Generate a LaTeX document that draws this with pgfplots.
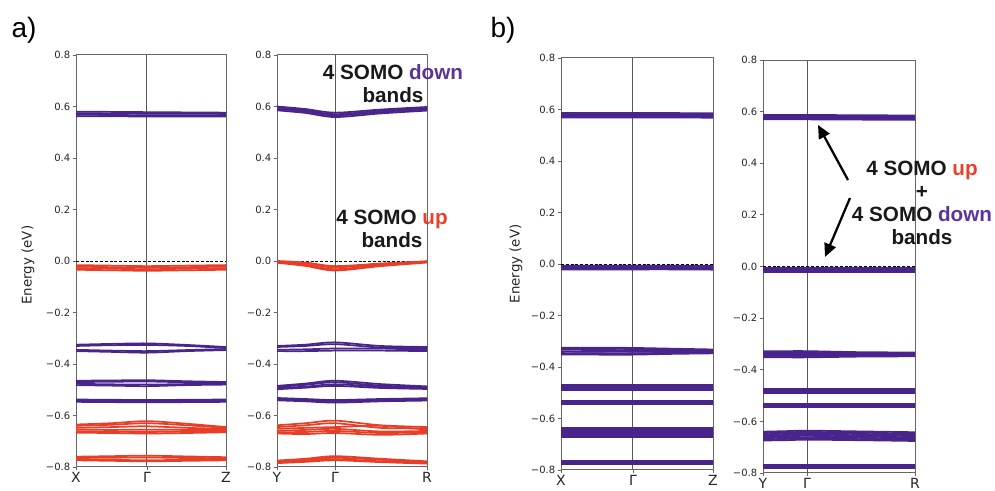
\documentclass[border=0pt]{standalone}
\usepackage{pgfplots}
\pgfplotsset{compat=1.18}
\usepackage{pgfplotstable}
\usetikzlibrary{arrows.meta}
\usepackage{fontspec}
\setmainfont{DejaVu Sans}
\newfontfamily\arial{Liberation Sans}
\definecolor{bred}{RGB}{232,62,40}
\definecolor{bpur}{RGB}{72,36,140}
\definecolor{tpur}{RGB}{92,52,152}
\definecolor{tred}{RGB}{232,64,44}

% panel a1: X - Gamma - Z  (p = spin-down/purple, r = spin-up/red)
\pgfplotstableread{
x p1 p2 p3 p4 p5 p6 p7 p8 p9 p10 p11 p12 p13 p14 p15 p16 r1 r2 r3 r4 r5 r6 r7 r8 r9 r10 r11 r12 r13 r14
0 0.580 0.574 0.568 0.562 -0.325 -0.330 -0.345 -0.350 -0.465 -0.470 -0.477 -0.482 -0.538 -0.541 -0.544 -0.547 -0.016 -0.022 -0.028 -0.034 -0.635 -0.640 -0.648 -0.655 -0.662 -0.667 -0.760 -0.765 -0.770 -0.774
0.236 0.579 0.573 0.567 0.562 -0.322 -0.327 -0.348 -0.353 -0.464 -0.469 -0.479 -0.484 -0.539 -0.542 -0.545 -0.548 -0.018 -0.024 -0.030 -0.036 -0.630 -0.636 -0.645 -0.656 -0.663 -0.668 -0.758 -0.764 -0.772 -0.776
0.473 0.578 0.572 0.566 0.561 -0.320 -0.326 -0.350 -0.356 -0.463 -0.468 -0.480 -0.486 -0.540 -0.543 -0.546 -0.549 -0.020 -0.026 -0.032 -0.038 -0.622 -0.630 -0.642 -0.655 -0.664 -0.670 -0.756 -0.763 -0.774 -0.778
0.737 0.577 0.572 0.566 0.561 -0.326 -0.330 -0.346 -0.350 -0.467 -0.471 -0.478 -0.482 -0.539 -0.542 -0.545 -0.548 -0.018 -0.024 -0.030 -0.036 -0.632 -0.638 -0.648 -0.656 -0.662 -0.668 -0.759 -0.765 -0.772 -0.776
1 0.576 0.571 0.566 0.561 -0.334 -0.338 -0.342 -0.346 -0.470 -0.473 -0.476 -0.480 -0.538 -0.541 -0.544 -0.547 -0.016 -0.022 -0.028 -0.034 -0.645 -0.648 -0.652 -0.656 -0.660 -0.665 -0.762 -0.766 -0.770 -0.774
}\tabA

% panel a2: Y - Gamma - R
\pgfplotstableread{
x p1 p2 p3 p4 p5 p6 p7 p8 p9 p10 p11 p12 p13 p14 p15 p16 r1 r2 r3 r4 r5 r6 r7 r8 r9 r10 r11 r12 r13 r14
0 0.600 0.595 0.590 0.585 -0.330 -0.334 -0.345 -0.350 -0.485 -0.489 -0.494 -0.498 -0.532 -0.535 -0.538 -0.541 0.000 -0.002 -0.004 -0.007 -0.638 -0.645 -0.652 -0.660 -0.665 -0.670 -0.775 -0.778 -0.782 -0.785
0.19 0.590 0.585 0.580 0.575 -0.325 -0.330 -0.343 -0.350 -0.476 -0.481 -0.488 -0.492 -0.536 -0.539 -0.542 -0.545 -0.006 -0.010 -0.015 -0.019 -0.630 -0.638 -0.648 -0.656 -0.664 -0.672 -0.768 -0.772 -0.776 -0.780
0.387 0.576 0.570 0.565 0.559 -0.316 -0.323 -0.340 -0.348 -0.465 -0.471 -0.479 -0.485 -0.540 -0.544 -0.547 -0.550 -0.020 -0.025 -0.032 -0.037 -0.620 -0.630 -0.645 -0.652 -0.660 -0.668 -0.758 -0.764 -0.770 -0.774
0.69 0.588 0.583 0.578 0.573 -0.330 -0.336 -0.340 -0.348 -0.478 -0.484 -0.488 -0.493 -0.536 -0.539 -0.542 -0.545 -0.010 -0.012 -0.016 -0.020 -0.638 -0.648 -0.640 -0.662 -0.668 -0.675 -0.768 -0.772 -0.778 -0.781
1 0.598 0.594 0.589 0.584 -0.334 -0.338 -0.345 -0.350 -0.487 -0.490 -0.494 -0.497 -0.533 -0.536 -0.539 -0.542 -0.001 -0.002 -0.004 -0.006 -0.645 -0.650 -0.655 -0.660 -0.665 -0.670 -0.778 -0.782 -0.785 -0.787
}\tabB

% panel b1: X - Gamma - Z (degenerate up + down)
\pgfplotstableread{
x p1 p2 p3 p4 p5 p6 p7 p8 p9 p10 p11 p12 p13 p14 p15 p16 p17 p18 p19 p20 p21 p22 p23 p24 p25 p26 p27 p28 p29 p30 p31 p32 p33 p34 p35 p36 p37
0 0.586 0.581 0.577 0.573 0.569 -0.007 -0.011 -0.014 -0.017 -0.021 -0.325 -0.329 -0.333 -0.340 -0.346 -0.352 -0.471 -0.475 -0.480 -0.484 -0.489 -0.533 -0.537 -0.541 -0.545 -0.638 -0.643 -0.648 -0.653 -0.658 -0.663 -0.668 -0.673 -0.765 -0.769 -0.774 -0.778
0.236 0.586 0.581 0.577 0.573 0.569 -0.007 -0.011 -0.014 -0.017 -0.021 -0.325 -0.329 -0.334 -0.341 -0.347 -0.352 -0.471 -0.475 -0.480 -0.484 -0.489 -0.533 -0.537 -0.541 -0.545 -0.638 -0.643 -0.648 -0.653 -0.658 -0.663 -0.668 -0.673 -0.765 -0.769 -0.774 -0.778
0.473 0.586 0.581 0.577 0.573 0.569 -0.007 -0.011 -0.014 -0.017 -0.021 -0.326 -0.330 -0.335 -0.341 -0.347 -0.352 -0.471 -0.475 -0.480 -0.484 -0.489 -0.533 -0.537 -0.541 -0.545 -0.638 -0.643 -0.648 -0.653 -0.658 -0.663 -0.668 -0.673 -0.765 -0.769 -0.774 -0.778
0.737 0.586 0.581 0.577 0.573 0.569 -0.007 -0.011 -0.014 -0.017 -0.021 -0.329 -0.332 -0.337 -0.341 -0.345 -0.349 -0.471 -0.475 -0.480 -0.484 -0.489 -0.533 -0.537 -0.541 -0.545 -0.638 -0.643 -0.648 -0.653 -0.658 -0.663 -0.668 -0.673 -0.765 -0.769 -0.774 -0.778
1 0.585 0.580 0.576 0.572 0.568 -0.008 -0.012 -0.015 -0.018 -0.022 -0.332 -0.335 -0.338 -0.341 -0.344 -0.347 -0.471 -0.475 -0.480 -0.484 -0.489 -0.533 -0.537 -0.541 -0.545 -0.638 -0.643 -0.648 -0.653 -0.658 -0.663 -0.668 -0.673 -0.765 -0.769 -0.774 -0.778
}\tabC

% panel b2: Y - Gamma - R (degenerate up + down)
\pgfplotstableread{
x p1 p2 p3 p4 p5 p6 p7 p8 p9 p10 p11 p12 p13 p14 p15 p16 p17 p18 p19 p20 p21 p22 p23 p24 p25 p26 p27 p28 p29 p30 p31 p32 p33 p34 p35 p36 p37
0 0.587 0.583 0.578 0.574 0.570 -0.006 -0.010 -0.013 -0.016 -0.020 -0.328 -0.333 -0.338 -0.343 -0.348 -0.352 -0.473 -0.477 -0.482 -0.486 -0.491 -0.533 -0.537 -0.541 -0.545 -0.640 -0.645 -0.650 -0.655 -0.660 -0.665 -0.670 -0.674 -0.767 -0.771 -0.776 -0.780
0.145 0.587 0.583 0.578 0.574 0.570 -0.006 -0.010 -0.013 -0.016 -0.020 -0.328 -0.333 -0.338 -0.343 -0.348 -0.352 -0.473 -0.477 -0.482 -0.486 -0.491 -0.533 -0.537 -0.541 -0.545 -0.638 -0.643 -0.648 -0.653 -0.658 -0.663 -0.668 -0.673 -0.767 -0.771 -0.776 -0.780
0.29 0.587 0.583 0.578 0.574 0.570 -0.006 -0.010 -0.013 -0.016 -0.020 -0.328 -0.333 -0.338 -0.343 -0.348 -0.352 -0.473 -0.477 -0.482 -0.486 -0.491 -0.533 -0.537 -0.541 -0.545 -0.636 -0.641 -0.646 -0.651 -0.656 -0.661 -0.666 -0.671 -0.767 -0.771 -0.776 -0.780
0.645 0.586 0.582 0.577 0.573 0.569 -0.006 -0.010 -0.013 -0.016 -0.020 -0.332 -0.335 -0.339 -0.342 -0.346 -0.349 -0.473 -0.477 -0.482 -0.486 -0.491 -0.533 -0.537 -0.541 -0.545 -0.639 -0.644 -0.649 -0.654 -0.659 -0.664 -0.669 -0.673 -0.767 -0.771 -0.776 -0.780
1 0.585 0.581 0.576 0.572 0.568 -0.006 -0.010 -0.013 -0.016 -0.020 -0.333 -0.336 -0.339 -0.342 -0.345 -0.348 -0.473 -0.477 -0.482 -0.486 -0.491 -0.533 -0.537 -0.541 -0.545 -0.642 -0.647 -0.652 -0.657 -0.662 -0.667 -0.672 -0.676 -0.767 -0.771 -0.776 -0.780
}\tabD

\pgfplotsset{
  bandax/.style={
    scale only axis, anchor=south west, xmin=0, xmax=1, ymin=-0.8, ymax=0.8,
    axis line style={black!60, line width=0.75pt},
    ytick={-0.8,-0.6,-0.4,-0.2,0,0.2,0.4,0.6,0.8},
    yticklabels={−0.8,−0.6,−0.4,−0.2,0.0,0.2,0.4,0.6,0.8},
    yticklabel style={font=\fontsize{7.5}{8}\selectfont, text=black!85, inner sep=1.5pt},
    xticklabel style={font=\fontsize{10.5}{11}\selectfont, inner sep=1pt, text=black!85},
    tick align=outside, tick pos=left,
    major tick length=2.6pt, tick style={black!60, line width=0.6pt},
    ylabel style={font=\fontsize{10}{12}\selectfont, text=black!85},
  },
  P/.style={bpur, line width=1.3pt, smooth, no markers},
  R/.style={bred, line width=1.3pt, smooth, no markers},
  Gline/.style={black!65, line width=0.75pt, no markers},
  Fermi/.style={black, line width=0.6pt, dash pattern=on 2.2pt off 1.4pt, no markers},
}

\begin{document}
\begin{tikzpicture}[x=0.75pt,y=0.75pt]
\path[use as bounding box] (0,0) rectangle (995,491);

% ---------- a1 ----------
\begin{axis}[bandax, at={(57pt,18pt)}, width=112.5pt, height=309pt,
  xtick={0,0.473,1}, xticklabels={X,Γ,Z},
  ylabel={Energy (eV)}, ylabel style={at={(axis description cs:-0.32,0.49)}, anchor=center}]
  \addplot[Gline] coordinates {(0.473,-0.8) (0.473,0.8)};
  \addplot[Fermi] coordinates {(0,0) (1,0)};
  \pgfplotsinvokeforeach{r1,r2,r3,r4,r5,r6,r7,r8,r9,r10,r11,r12,r13,r14}{\addplot[R] table[x=x,y=#1]{\tabA};}
  \pgfplotsinvokeforeach{p1,p2,p3,p4,p5,p6,p7,p8,p9,p10,p11,p12,p13,p14,p15,p16}{\addplot[P] table[x=x,y=#1]{\tabA};}
\end{axis}

% ---------- a2 ----------
\begin{axis}[bandax, at={(207.75pt,18pt)}, width=112.5pt, height=309pt,
  xtick={0,0.387,1}, xticklabels={Y,Γ,R}]
  \addplot[Gline] coordinates {(0.387,-0.8) (0.387,0.8)};
  \addplot[Fermi] coordinates {(0,0) (1,0)};
  \pgfplotsinvokeforeach{p1,p2,p3,p4,p5,p6,p7,p8,p9,p10,p11,p12,p13,p14,p15,p16}{\addplot[P] table[x=x,y=#1]{\tabB};}
  \pgfplotsinvokeforeach{r1,r2,r3,r4,r5,r6,r7,r8,r9,r10,r11,r12,r13,r14}{\addplot[R] table[x=x,y=#1]{\tabB};}
\end{axis}

% ---------- b1 ----------
\begin{axis}[bandax, at={(420.75pt,15.75pt)}, width=114pt, height=309pt,
  xtick={0,0.473,1}, xticklabels={X,Γ,Z},
  ylabel={Energy (eV)}, ylabel style={at={(axis description cs:-0.296,0.5)}, anchor=center}]
  \addplot[Gline] coordinates {(0.473,-0.8) (0.473,0.8)};
  \addplot[Fermi] coordinates {(0,0) (1,0)};
  \pgfplotsinvokeforeach{p1,p2,p3,p4,p5,p6,p7,p8,p9,p10,p11,p12,p13,p14,p15,p16,p17,p18,p19,p20,p21,p22,p23,p24,p25,p26,p27,p28,p29,p30,p31,p32,p33,p34,p35,p36,p37}{\addplot[P] table[x=x,y=#1]{\tabC};}
\end{axis}

% ---------- b2 ----------
\begin{axis}[bandax, at={(572.25pt,13.5pt)}, width=114pt, height=309.75pt,
  xtick={0,0.29,1}, xticklabels={Y,Γ,R}]
  \addplot[Gline] coordinates {(0.29,-0.8) (0.29,0.8)};
  \addplot[Fermi] coordinates {(0,0) (1,0)};
  \pgfplotsinvokeforeach{p1,p2,p3,p4,p5,p6,p7,p8,p9,p10,p11,p12,p13,p14,p15,p16,p17,p18,p19,p20,p21,p22,p23,p24,p25,p26,p27,p28,p29,p30,p31,p32,p33,p34,p35,p36,p37}{\addplot[P] table[x=x,y=#1]{\tabD};}
\end{axis}

% ---------- panel letters ----------
\node[font=\arial\fontsize{21}{24}\selectfont] at (24,461) {a)};
\node[font=\arial\fontsize{21}{24}\selectfont] at (503,461) {b)};

% ---------- annotations ----------
\node[font=\arial\bfseries\fontsize{15.5}{17.25}\selectfont, align=center, text=black!90] at (393,407.5)
  {4 SOMO {\color{tpur}down}\\bands};
\node[font=\arial\bfseries\fontsize{15.5}{17.25}\selectfont, align=center, text=black!90] at (392,262)
  {4 SOMO {\color{tred}up}\\bands};
\node[font=\arial\bfseries\fontsize{15.5}{17.25}\selectfont, align=center, text=black!90] at (922,288.5)
  {4 SOMO {\color{tred}up}\\+\\4 SOMO {\color{tpur}down}\\bands};
\draw[line width=1.7pt, -{Triangle[length=10pt,width=9pt]}] (848,311) -- (818,366);
\draw[line width=1.7pt, -{Triangle[length=10pt,width=9pt]}] (850,293) -- (825,234);
\end{tikzpicture}
\end{document}
